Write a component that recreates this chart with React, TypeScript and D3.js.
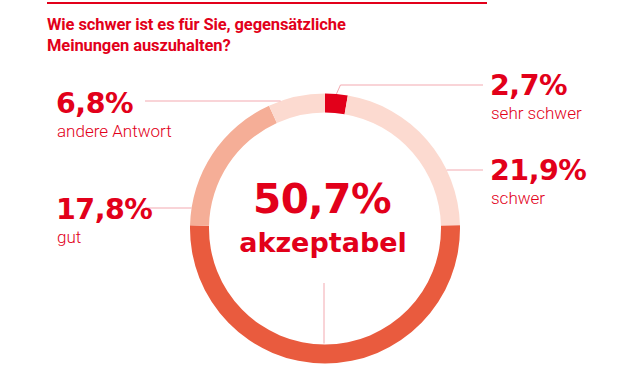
import React from "react";
import * as d3 from "d3";

// Antworten, im Uhrzeigersinn ab 12 Uhr
const categories = ["sehr schwer", "schwer", "akzeptabel", "gut", "andere Antwort"];
const values = [2.7, 21.9, 50.7, 17.8, 6.8];
const colors = ["#e2001a", "#fcdad0", "#e95b3e", "#f5ae97", "#fcdad0"];
const titleLines = ["Wie schwer ist es für Sie, gegensätzliche", "Meinungen auszuhalten?"];

const width = 630;
const height = 370;
const cx = 325;
const cy = 228.5;
const outerR = 135;
const innerR = 116;

const red = "#e2001a";
const leaderColor = "#f3a9b0";
const numFont = "'DejaVu Sans', Roboto, sans-serif";
const labelFont = "Roboto, 'Noto Sans', sans-serif";

const fmt = (v: number) => `${v.toFixed(1).replace(".", ",")}%`;

// label placement: side, text x, value baseline, leader y
const labelLayout: Record<string, { side: "left" | "right"; x: number; y: number; leaderY: number }> = {
  "sehr schwer": { side: "right", x: 490, y: 95, leaderY: 85 },
  schwer: { side: "right", x: 490, y: 180, leaderY: 170 },
  "andere Antwort": { side: "left", x: 56, y: 113, leaderY: 101 },
  gut: { side: "left", x: 56, y: 219, leaderY: 208 },
};

export default function App() {
  const pie = d3
    .pie<number>()
    .sort(null)
    .value((d) => d);
  const arcs = pie(values);
  const arc = d3.arc<d3.PieArcDatum<number>>().innerRadius(innerR).outerRadius(outerR);

  const ringX = (y: number, side: "left" | "right") => {
    const dy = y - cy;
    const dx = Math.sqrt(outerR * outerR - dy * dy);
    return side === "left" ? cx - dx : cx + dx;
  };

  const mainIdx = values.indexOf(d3.max(values) as number);

  return (
    <svg width={width} height={height} style={{ position: "absolute", left: 0, top: 0 }}>
      <rect width={width} height={height} fill="#fff" />
      <line x1={47} x2={487} y1={3} y2={3} stroke={red} strokeWidth={2} />
      {titleLines.map((t, i) => (
        <text
          key={i}
          x={47}
          y={30 + i * 21}
          fill={red}
          fontFamily="'Liberation Sans Narrow', Roboto, sans-serif"
          fontWeight={700}
          fontSize={16.5}
          letterSpacing={-0.1}
        >
          {t}
        </text>
      ))}

      <g transform={`translate(${cx},${cy})`}>
        {arcs.map((a, i) => (
          <path key={i} d={arc(a) as string} fill={colors[i]} />
        ))}
      </g>

      {/* leader lines */}
      {arcs.map((a, i) => {
        const name = categories[i];
        const lay = labelLayout[name];
        if (!lay) return null;
        const textEdge = lay.side === "left" ? 145 : 483;
        if (i === 0) {
          const mid = (a.startAngle + a.endAngle) / 2;
          const sx = cx + outerR * Math.sin(mid);
          const sy = cy - outerR * Math.cos(mid);
          return (
            <polyline
              key={i}
              points={`${sx},${sy} ${sx + 4},${lay.leaderY} ${textEdge},${lay.leaderY}`}
              fill="none"
              stroke={leaderColor}
              strokeWidth={1}
            />
          );
        }
        const rx = ringX(lay.leaderY, lay.side);
        return (
          <line
            key={i}
            x1={textEdge}
            x2={rx}
            y1={lay.leaderY}
            y2={lay.leaderY}
            stroke={leaderColor}
            strokeWidth={1}
          />
        );
      })}
      <line x1={cx - 1} x2={cx - 1} y1={283} y2={cy + innerR - 1} stroke={leaderColor} strokeWidth={1} />

      {/* side labels */}
      {categories.map((name, i) => {
        const lay = labelLayout[name];
        if (!lay) return null;
        return (
          <g key={name}>
            <text x={lay.x} y={lay.y} fill={red} fontFamily={numFont} fontWeight={700} fontSize={28.5} letterSpacing={-0.5}>
              {fmt(values[i])}
            </text>
            <text x={lay.x + 1} y={lay.y + 24} fill={red} fontFamily={labelFont} fontWeight={300} fontSize={17}>
              {name}
            </text>
          </g>
        );
      })}

      {/* center */}
      <text x={cx - 3} y={213} textAnchor="middle" fill={red} fontFamily={numFont} fontWeight={700} fontSize={40.5} letterSpacing={-0.5}>
        {fmt(values[mainIdx])}
      </text>
      <text x={cx - 2} y={252} textAnchor="middle" fill={red} fontFamily={numFont} fontWeight={700} fontSize={27}>
        {categories[mainIdx]}
      </text>
    </svg>
  );
}
